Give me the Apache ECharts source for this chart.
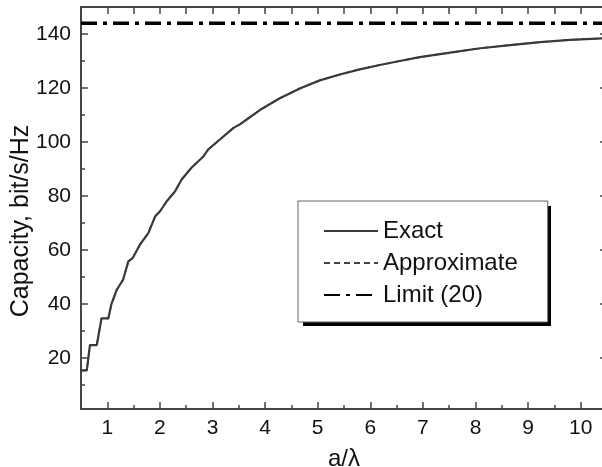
<!DOCTYPE html>
<html>
<head>
<meta charset="UTF-8">
<script src="https://cdn.jsdelivr.net/npm/echarts/dist/echarts.min.js"></script>
<style>
    html, body { margin: 0; padding: 0; background: #fff; }
    #main { width: 602px; height: 467px; }
</style>
</head>
<body>
<div id="main"></div>
<script>
// a/lambda positions and capacity
var xExact = [0.5, 0.61, 0.67, 0.8, 0.89, 1.02, 1.08, 1.18, 1.3, 1.4, 1.48, 1.62, 1.78, 1.91, 2.0, 2.13, 2.29, 2.41, 2.6, 2.83, 2.92, 3.14, 3.4, 3.52, 3.65, 3.9, 4.28, 4.66, 5.04, 5.42, 5.8, 6.18, 6.56, 6.94, 7.52, 8.09, 8.66, 9.23, 9.8, 10.5];
var yExact = [15.3, 15.3, 24.7, 24.7, 34.6, 34.6, 40.0, 45.2, 48.9, 55.7, 56.9, 61.9, 66.2, 72.4, 74.2, 78.0, 81.7, 86.0, 90.4, 94.7, 97.2, 100.9, 105.2, 106.5, 108.3, 111.8, 116.2, 119.8, 122.8, 125.0, 126.9, 128.5, 130.0, 131.4, 133.1, 134.7, 135.9, 137.0, 137.8, 138.5];
// approximate curve lies on top of the exact one
var xApprox = [0.5, 0.61, 0.67, 0.8, 0.89, 1.02, 1.08, 1.18, 1.3, 1.4, 1.48, 1.62, 1.78, 1.91, 2.0, 2.13, 2.29, 2.41, 2.6, 2.83, 2.92, 3.14, 3.4, 3.52, 3.65, 3.9, 4.28, 4.66, 5.04, 5.42, 5.8, 6.18, 6.56, 6.94, 7.52, 8.09, 8.66, 9.23, 9.8, 10.5];
var yApprox = [15.3, 15.3, 24.7, 24.7, 34.6, 34.6, 40.0, 45.2, 48.9, 55.7, 56.9, 61.9, 66.2, 72.4, 74.2, 78.0, 81.7, 86.0, 90.4, 94.7, 97.2, 100.9, 105.2, 106.5, 108.3, 111.8, 116.2, 119.8, 122.8, 125.0, 126.9, 128.5, 130.0, 131.4, 133.1, 134.7, 135.9, 137.0, 137.8, 138.5];
var xLimit = [0.5, 10.5];
var yLimit = [144, 144];

var xMajor = [1, 2, 3, 4, 5, 6, 7, 8, 9, 10];
var xMinor = [0.5, 1.5, 2.5, 3.5, 4.5, 5.5, 6.5, 7.5, 8.5, 9.5, 10.5];
var yMajor = [20, 40, 60, 80, 100, 120, 140];
var yMinor = [10, 30, 50, 70, 90, 110, 130, 150];

function pairs(xs, ys) {
    return xs.map(function (x, i) { return [x, ys[i]]; });
}

var FONT = 'Liberation Sans';
var AX = '#444';
var xMin = 0.5, xMax = 10.5, yMin = 1, yMax = 150;

var chart = echarts.init(document.getElementById('main'));

function xAx(pos, ticks, len, labels, line) {
    return {
        type: 'value', position: pos, min: xMin, max: xMax,
        splitLine: { show: false },
        axisLine: { show: line, onZero: false, lineStyle: { color: AX, width: 2 } },
        axisTick: { show: true, inside: true, length: len, customValues: ticks, lineStyle: { color: AX, width: 1.5 } },
        axisLabel: labels ? { show: true, customValues: xMajor, margin: 9, fontFamily: FONT, fontSize: 21, color: '#111' } : { show: false }
    };
}
function yAx(pos, ticks, len, labels, line) {
    return {
        type: 'value', position: pos, min: yMin, max: yMax,
        splitLine: { show: false },
        axisLine: { show: line, onZero: false, lineStyle: { color: AX, width: 2 } },
        axisTick: { show: true, inside: true, length: len, customValues: ticks, lineStyle: { color: AX, width: 1.5 } },
        axisLabel: labels ? { show: true, customValues: yMajor, margin: 10, fontFamily: FONT, fontSize: 21, color: '#111' } : { show: false }
    };
}

var xMain = xAx('bottom', xMajor, 7, true, true);
xMain.name = 'a/\u03bb';
xMain.nameLocation = 'middle';
xMain.nameGap = 38;
xMain.nameTextStyle = { fontFamily: FONT, fontSize: 24, color: '#111' };

var yMain = yAx('left', yMajor, 7, true, true);
yMain.name = 'Capacity, bit/s/Hz';
yMain.nameLocation = 'middle';
yMain.nameGap = 47;
yMain.nameMoveOverlap = false;
yMain.nameTextStyle = { fontFamily: FONT, fontSize: 25, color: '#111', padding: [0, 26, 0, 0] };

var option = {
    animation: false,
    backgroundColor: '#fff',
    grid: { left: 81, top: 7, right: -5, bottom: 58, outerBoundsMode: 'none', containLabel: false },
    xAxis: [
        xMain,
        xAx('bottom', xMinor, 4, false, false),
        xAx('top', xMajor.concat(xMinor), 7, false, true)
    ],
    yAxis: [
        yMain,
        yAx('left', yMinor, 4, false, false),
        yAx('right', yMajor, 7, false, true)
    ],
    // drop shadow behind the legend box
    graphic: [{
        type: 'rect', z: 1, left: 303, top: 206,
        shape: { width: 248, height: 120 },
        style: { fill: '#000' }
    }],
    legend: {
        orient: 'vertical',
        left: 298, top: 201, z: 5,
        data: ['Exact', 'Approximate', 'Limit (20)'],
        itemWidth: 54, itemHeight: 12, itemGap: 8,
        padding: [18, 30, 15, 25],
        backgroundColor: '#fff',
        borderColor: '#666', borderWidth: 1,
        itemStyle: { opacity: 0 },
        textStyle: { fontFamily: FONT, fontSize: 24, lineHeight: 22, color: '#111' }
    },
    series: [
        {
            name: 'Approximate', type: 'line', showSymbol: false, symbol: 'none',
            data: pairs(xApprox, yApprox),
            lineStyle: { color: '#444', width: 1.6, type: [6, 4] },
            itemStyle: { color: '#444' }
        },
        {
            name: 'Exact', type: 'line', showSymbol: false, symbol: 'none',
            data: pairs(xExact, yExact),
            lineStyle: { color: '#3a3a3a', width: 2.2 },
            itemStyle: { color: '#3a3a3a' }
        },
        {
            name: 'Limit (20)', type: 'line', showSymbol: false, symbol: 'none',
            data: pairs(xLimit, yLimit),
            lineStyle: { color: '#000', width: 3.5, type: [16, 6, 4, 6] },
            itemStyle: { color: '#000' }
        }
    ]
};

chart.setOption(option);
</script>
</body>
</html>
